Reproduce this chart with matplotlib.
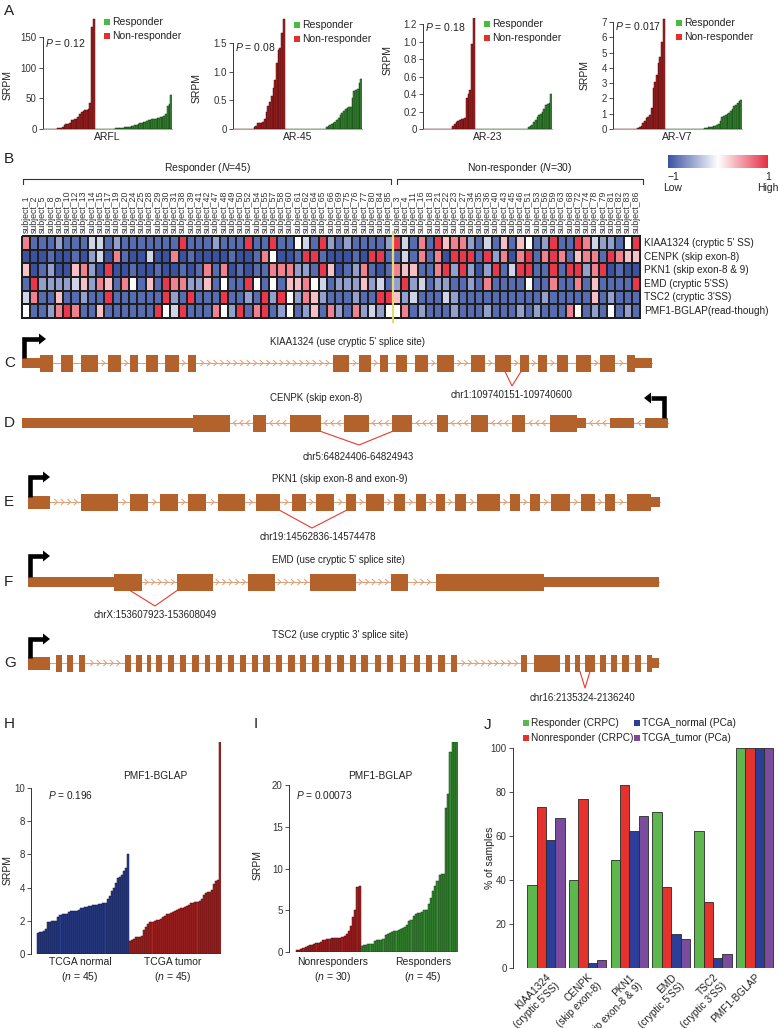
import numpy as np
import matplotlib
matplotlib.use('Agg')
import matplotlib.pyplot as plt
from matplotlib.colors import LinearSegmentedColormap
from matplotlib.patches import Rectangle, Polygon
from matplotlib.collections import LineCollection

plt.rcParams['font.family'] = ['Liberation Sans', 'DejaVu Sans']
plt.rcParams['mathtext.fontset'] = 'custom'
plt.rcParams['mathtext.rm'] = 'Liberation Sans'
plt.rcParams['mathtext.it'] = 'Liberation Sans:italic'
plt.rcParams['axes.linewidth'] = 0.7

# ================= DATA =================
# Panel A (sorted SRPM values: 30 non-responders, 45 responders)
ARFL_NR = [0]*8 + [1, 1, 2, 3, 7, 8, 8, 10, 14, 15, 16, 16, 20, 24, 27, 30, 31, 31, 32, 42, 166, 179]
ARFL_R = [0]*10 + [0.5, 0.7, 1, 1.2, 1.5, 2, 2.3, 2.6, 3, 3.4, 3.8, 4.2, 5, 6, 7, 8, 9, 10, 11, 12, 13, 14,
                   15, 16, 17, 17, 18, 18, 19, 20, 22, 25, 38, 40, 55]
AR45_NR = [0]*12 + [0.03, 0.05, 0.1, 0.1, 0.1, 0.12, 0.18, 0.3, 0.4, 0.47, 0.58, 0.72, 0.85, 1.15, 1.38, 1.42, 1.67, 1.93]
AR45_R = [0]*24 + [0.03, 0.05, 0.07, 0.09, 0.11, 0.13, 0.16, 0.2, 0.24, 0.28, 0.32, 0.35, 0.37, 0.38, 0.38, 0.55,
                   0.67, 0.68, 0.7, 0.8, 0.87]
AR23_NR = [0]*17 + [0.04, 0.06, 0.08, 0.09, 0.1, 0.12, 0.12, 0.13, 0.35, 0.4, 0.45, 0.97, 1.27]
AR23_R = [0]*31 + [0.02, 0.03, 0.05, 0.08, 0.1, 0.14, 0.16, 0.17, 0.2, 0.23, 0.27, 0.29, 0.3, 0.4]
ARV7_NR = [0]*14 + [0.05, 0.1, 0.2, 0.4, 0.55, 0.75, 0.8, 0.9, 1.4, 2.7, 3.1, 3.5, 4.3, 4.7, 5.7, 7.2]
ARV7_R = [0]*22 + [0.03, 0.06, 0.09, 0.12, 0.14, 0.15, 0.17, 0.2, 0.25, 0.35, 0.5, 0.8, 0.85, 0.9, 0.95, 1.05,
                   1.15, 1.3, 1.5, 1.55, 1.7, 1.8, 1.9]
A_NAMES = ['ARFL', 'AR-45', 'AR-23', 'AR-V7']
A_PVALS = ['0.12', '0.08', '0.18', '0.017']

# Panel B heatmap
RESP_SUBJ = [1, 2, 5, 8, 9, 10, 12, 13, 14, 15, 17, 19, 20, 24, 25, 28, 29, 30, 31, 38, 39, 41, 42, 47, 48, 49,
             50, 52, 54, 55, 57, 58, 60, 61, 62, 64, 65, 66, 69, 75, 76, 77, 80, 84, 85]
NONRESP_SUBJ = [3, 4, 11, 16, 18, 21, 22, 23, 27, 34, 35, 36, 40, 43, 45, 46, 51, 53, 56, 59, 63, 68, 72, 74,
                78, 79, 81, 82, 83, 86]
HEAT_LABELS = ["KIAA1324 (cryptic 5' SS)", "CENPK (skip exon-8)", "PKN1 (skip exon-8 & 9)",
               "EMD (cryptic 5'SS)", "TSC2 (cryptic 3'SS)", "PMF1-BGLAP(read-though)"]
# level codes: D dark blue ... R red
LEVELS = {'D': -1.0, 'B': -0.85, 'L': -0.55, 'V': -0.25, 'W': 0.0, 'Q': 0.3, 'P': 0.6, 'R': 0.95}
HEAT_ROWS = [
    "PBBBLBBBVVBLBBBBBBBRBBBLBBBRBBRBBWVBRLBLBBBBL" + "RVBPBRQPPLBVBQBQWBLRBBRPVLLBWR",
    "DDDBDDBDLVDPBDDVDDPDBDDDDBDDBPWDDBRRBDDDBDRRB" + "BVBPBPDRRRBRLPDPRBPRPBQPPBRPQQ",
    "QDBLDDQPLDRDDBDDBDDBDBPBPDBDBBPPPLLBRQDBLPBDB" + "PQQBBPRLRLDLRBVRRBBRBRRLPRDBDD",
    "BRLLLLVQLPQBPWBQBRPPLLQBWBBRWBWBQQPWVBLLLQLVB" + "LRLVBLLBBLBPBBBBWBBPBBPBQBBBBR",
    "VPBBQBBLBBRBBBBBBRLBRBBBRBBLBRLRWLPQLBBBLBBRR" + "QLVBBBVLBBBBBBBBBBLBBBBBQBLBBB",
    "WBBLPRPBBQBBBBBBRWVRBBBPWLRBPRBLWBLQBPLBPLVLW" + "WPBLBBBLBBBLBBBLBLBBBPWBLBWBLB",
]

# Panels C-G gene models (exon / UTR extents along the drawing, direction of transcription)
GENE_TITLES = ["KIAA1324 (use cryptic 5' splice site)", "CENPK (skip exon-8)",
               "PKN1 (skip exon-8 and exon-9)", "EMD (use cryptic 5' splice site)",
               "TSC2 (use cryptic 3' splice site)"]
GENE_COORDS = ["chr1:109740151-109740600", "chr5:64824406-64824943", "chr19:14562836-14574478",
               "chrX:153607923-153608049", "chr16:2135324-2136240"]
C_EXONS = [(40, 53.5), (61.5, 73.5), (81.5, 98.5), (108, 121.5), (130.5, 138), (146, 158), (165.5, 179),
           (188, 196), (333.5, 349.5), (359.5, 371), (380, 388), (396.5, 407.5), (415.5, 428.5), (437.5, 454),
           (471, 485), (495, 511.5), (520.5, 529), (538.5, 547.5), (557, 568), (576, 591.5), (600.5, 615),
           (627.5, 635)]
C_UTRS = [(22, 40), (635, 652)]
D_EXONS = [(193, 230), (253, 266), (290, 321), (344, 369), (392, 412), (437, 448), (471, 488), (512, 525),
           (550, 577)]
D_UTRS = [(22, 193), (577, 586), (610, 634), (645, 668)]
E_EXONS = [(81.5, 118), (130, 148.5), (160, 178.5), (188, 206.5), (218.5, 245), (256.5, 280), (292.5, 306),
           (316.5, 334), (346.5, 356), (366.5, 384), (394, 405), (416.5, 426), (436.5, 445), (455, 466.5),
           (477.5, 500), (510, 520), (530, 540), (551.5, 570), (581.5, 595), (605, 615), (627.5, 651)]
E_UTRS = [(28, 50), (651, 660)]
F_EXONS = [(114, 142), (177, 213), (248, 275), (310, 356), (391, 408), (436, 544)]
F_UTRS = [(28, 114), (544, 659)]
G_EXONS = [(56.5, 62.5), (67.5, 73.5), (79, 85), (125, 131.5), (136, 142.5), (147.5, 151.5), (156.5, 162.5),
           (168.5, 174.5), (180, 186), (192.5, 199), (205, 210), (216.5, 222.5), (228.5, 234), (240, 246.5),
           (252.5, 258.5), (263.5, 270), (276, 282.5), (288.5, 295), (300, 306.5), (312.5, 319), (325, 331.5),
           (337.5, 344), (350, 356.5), (361.5, 368), (375, 381), (387.5, 393.5), (400, 406.5), (414, 420),
           (426.5, 432.5), (438.5, 445), (451.5, 457.5), (521.5, 527.5), (534, 560), (565, 570), (575, 580),
           (585, 595), (600, 606.5), (611, 617.5), (622.5, 629), (635, 641.5), (647.5, 652.5)]
G_UTRS = [(28, 50), (652.5, 659)]

# Panel H / I
H_NORMAL = [1.28, 1.3, 1.35, 1.4, 1.5, 1.9, 1.95, 1.97, 2.0, 2.0, 2.2, 2.35, 2.4, 2.4, 2.42, 2.55, 2.58, 2.6,
            2.6, 2.62, 2.65, 2.8, 2.8, 2.82, 2.85, 2.9, 2.92, 2.95, 2.95, 2.97, 3.0, 3.02, 3.05, 3.1, 3.3, 3.5,
            3.8, 4.0, 4.3, 4.6, 4.65, 4.75, 5.0, 5.2, 6.05]
H_TUMOR = [0.8, 0.85, 0.9, 1.0, 1.02, 1.05, 1.1, 1.45, 1.65, 1.8, 1.9, 1.95, 2.0, 2.02, 2.05, 2.1, 2.2, 2.3,
           2.38, 2.4, 2.45, 2.5, 2.6, 2.65, 2.7, 2.75, 2.8, 2.85, 2.9, 2.95, 3.05, 3.1, 3.12, 3.15, 3.2, 3.3,
           3.55, 3.7, 3.72, 3.75, 3.85, 4.2, 4.4, 4.45, 12.75]
H_TICKS = [0, 2, 4, 6, 8, 10]
H_TICKLABELS = ['0', '2', '4', '8', '8', '10']
I_NONRESP = [0.2, 0.3, 0.4, 0.5, 0.6, 0.7, 0.8, 0.9, 1.0, 1.05, 1.1, 1.2, 1.4, 1.5, 1.6, 1.62, 1.65, 1.65,
             1.68, 1.7, 1.72, 1.8, 1.9, 2.2, 2.5, 3.1, 4.2, 5.1, 7.8, 7.9]
I_RESP = [0.7, 0.8, 0.9, 0.95, 1.0, 1.0, 1.3, 1.4, 1.45, 1.5, 1.6, 2.1, 2.2, 2.3, 2.45, 2.5, 2.55, 2.6, 2.8,
          2.9, 3.0, 3.2, 3.7, 3.8, 4.3, 4.6, 4.65, 4.7, 4.8, 5.0, 5.1, 5.8, 6.5, 7.3, 7.9, 8.5, 9.3, 9.35,
          9.35, 17.3, 19.0, 24.0, 25.2, 25.2, 25.2]

# Panel J
J_CATS = ["KIAA1324\n(cryptic 5'SS)", "CENPK\n(skip exon-8)", "PKN1\n(skip exon-8 & 9)",
          "EMD\n(cryptic 5'SS)", "TSC2\n(cryptic 3'SS)", "PMF1-BGLAP"]
J_SERIES = ['Responder (CRPC)', 'Nonresponder (CRPC)', 'TCGA_normal (PCa)', 'TCGA_tumor (PCa)']
J_RESP = [37.8, 40.0, 48.9, 71.1, 62.2, 100]
J_NONRESP = [73.3, 76.7, 83.3, 36.7, 30.0, 100]
J_NORMAL = [58.0, 2.2, 62.2, 15.6, 4.4, 100]
J_TUMOR = [68.3, 3.5, 69.0, 13.3, 6.2, 100]

# ================= STYLE =================
W, H = 778, 1028
RED_BAR, RED_EDGE = '#a52222', '#4d0b0b'
GRN_BAR, GRN_EDGE = '#3a8c36', '#103a10'
LEG_GRN, LEG_RED = '#4cb848', '#e3302f'
EXON = '#b3622b'
INTRON = '#dba37c'
cmap = LinearSegmentedColormap.from_list('bwr2', ['#3b52a3', '#ffffff', '#e62e45'])

fig = plt.figure(figsize=(W / 100, H / 100), dpi=100)


def add_ax(x0, y0, x1, y1, **kw):
    return fig.add_axes([x0 / W, 1 - y1 / H, (x1 - x0) / W, (y1 - y0) / H], **kw)


ov = fig.add_axes([0, 0, 1, 1], zorder=10)
ov.set_xlim(0, W)
ov.set_ylim(H, 0)
ov.axis('off')
ov.patch.set_alpha(0)


def T(x, y, s, **kw):
    kw.setdefault('fontsize', 7)
    kw.setdefault('color', '#222222')
    return ov.text(x, y, s, **kw)


def legend_sq(x, y, color, label, fs=7.3, size=6.0):
    ov.add_patch(Rectangle((x - size / 2, y - size / 2), size, size, color=color, lw=0))
    T(x + size / 2 + 2.5, y, label, va='center', ha='left', fontsize=fs)


def style_bar_axes(ax, ticks, labels, top_tick):
    for s in ['top', 'right']:
        ax.spines[s].set_visible(False)
    ax.spines['left'].set_bounds(0, top_tick)
    ax.spines['left'].set_color('#333333')
    ax.spines['left'].set_linewidth(0.7)
    ax.set_yticks(ticks)
    ax.set_yticklabels(labels)
    ax.tick_params(axis='y', length=3, width=0.6, labelsize=7, pad=1.5, colors='#333333')
    ax.set_xticks([])
    ax.patch.set_alpha(0)


# ================= PANEL A =================
T(4, 11, 'A', fontsize=11, va='center', ha='left')
A_DATA = [(ARFL_NR, ARFL_R), (AR45_NR, AR45_R), (AR23_NR, AR23_R), (ARV7_NR, ARV7_R)]
A_TOP = [181, 1.94, 1.27, 7.26]
A_TICKS = [[0, 50, 100, 150], [0, 0.5, 1.0, 1.5], [0, 0.2, 0.4, 0.6, 0.8, 1.0, 1.2], list(range(8))]
A_TICKLAB = [['0', '50', '100', '150'], ['0', '0.5', '1.0', '1.5'],
             ['0', '0.2', '0.4', '0.6', '0.8', '1.0', '1.2'], [str(i) for i in range(8)]]
A_X = [(43, 172), (233, 362), (423, 552), (613, 742)]
A_P = [(45, 43), (235, 47), (425, 27), (615, 26)]
A_LEG = [(107, 22), (297, 25), (487, 24), (679, 23)]
A_SRPM = [(8, 85), (197, 88), (388, 60), (585, 75)]
for i in range(4):
    nr, r = A_DATA[i]
    ax = add_ax(A_X[i][0], 18, A_X[i][1], 129)
    vals = list(nr) + list(r)
    cols = [RED_BAR] * len(nr) + [GRN_BAR] * len(r)
    edges = [RED_EDGE] * len(nr) + [GRN_EDGE] * len(r)
    ax.bar(np.arange(len(vals)), vals, width=1.0, color=cols, edgecolor=edges, linewidth=0.35)
    ax.set_xlim(-0.5, len(vals) - 0.5)
    ax.set_ylim(0, A_TOP[i])
    style_bar_axes(ax, A_TICKS[i], A_TICKLAB[i], A_TICKS[i][-1])
    ax.spines['bottom'].set_color('#999999')
    ax.spines['bottom'].set_linewidth(0.6)
    ax.text(0.5, -0.03, A_NAMES[i], transform=ax.transAxes, ha='center', va='top', fontsize=7.5,
            color='#222222')
    T(A_P[i][0], A_P[i][1], r'$P$ = ' + A_PVALS[i], va='center', ha='left', fontsize=7.5)
    lx, ly = A_LEG[i]
    legend_sq(lx, ly, LEG_GRN, 'Responder', fs=7.5)
    legend_sq(lx, ly + 14, LEG_RED, 'Non-responder', fs=7.5)
    T(A_SRPM[i][0], A_SRPM[i][1], 'SRPM', rotation=90, ha='center', va='center', fontsize=7.5)

# ================= PANEL B =================
T(4, 159, 'B', fontsize=11, va='center', ha='left')
hx0, hx1, hy0, hy1 = 22, 640, 236, 318
ncol = len(RESP_SUBJ) + len(NONRESP_SUBJ)
cw = (hx1 - hx0) / ncol
axh = add_ax(hx0, hy0, hx1, hy1)
M = np.array([[LEVELS[c] for c in row] for row in HEAT_ROWS])
mesh = axh.pcolormesh(np.arange(ncol + 1), np.arange(len(HEAT_ROWS) + 1), M, cmap=cmap, vmin=-1, vmax=1,
                      edgecolors='#1e1e1e', linewidth=1.1)
mesh.set_clip_on(False)
axh.set_xlim(0, ncol)
axh.set_ylim(len(HEAT_ROWS), 0)
axh.axis('off')
xsep = hx0 + len(RESP_SUBJ) * cw
ov.plot([xsep, xsep], [232, 322], color='#e6d77a', lw=1.6)
subj_labels = ['subject_%d' % s for s in RESP_SUBJ + NONRESP_SUBJ]
for k, lab in enumerate(subj_labels):
    T(hx0 + (k + 0.5) * cw, 233, lab, rotation=90, ha='center', va='bottom', fontsize=6.3, color='#333333')
rh = (hy1 - hy0) / len(HEAT_LABELS)
for j, lab in enumerate(HEAT_LABELS):
    T(644, hy0 + (j + 0.5) * rh, lab, va='center', ha='left', fontsize=7.2)
T(208, 168, r'Responder ($N$=45)', ha='center', va='center', fontsize=7.5)
T(520, 168, r'Non-responder ($N$=30)', ha='center', va='center', fontsize=7.5)
ov.plot([23, 23, 391, 391], [184, 178.5, 178.5, 184], color='#333333', lw=0.8)
ov.plot([397, 397, 643, 643], [184, 178.5, 178.5, 184], color='#333333', lw=0.8)
axc = add_ax(668, 155, 768, 168)
axc.imshow(np.linspace(-1, 1, 256)[None, :], aspect='auto', cmap=cmap, vmin=-1, vmax=1)
axc.axis('off')
T(673, 177, '\u22121', ha='center', va='center', fontsize=7.5)
T(768, 177, '1', ha='center', va='center', fontsize=7.5)
T(673, 188, 'Low', ha='center', va='center', fontsize=7.5)
T(768, 188, 'High', ha='center', va='center', fontsize=7.5)


# ================= PANELS C-G =================
def chevrons(a, b, yc, direction, segs):
    gap = b - a
    step = 6.6
    n = int((gap - 2) // step)
    if n < 1:
        return
    start = a + (gap - (n - 1) * step) / 2
    for m in range(n):
        x = start + m * step
        d = 1.6 * direction
        segs.append([(x - d, yc - 3.0), (x + d, yc), (x - d, yc + 3.0)])


def draw_gene(yc, exons, utrs, direction, utr_half=5.0, exon_half=8.5, first_utr_half=None):
    blocks = sorted([(a, b) for a, b in exons] + [(a, b) for a, b in utrs])
    x0, x1 = blocks[0][0], blocks[-1][1]
    ov.plot([x0, x1], [yc, yc], color=INTRON, lw=0.8, zorder=2)
    segs = []
    for (a0, b0), (a1, b1) in zip(blocks[:-1], blocks[1:]):
        if a1 - b0 > 5:
            chevrons(b0, a1, yc, direction, segs)
    ov.add_collection(LineCollection(segs, colors=INTRON, linewidths=0.75, zorder=2))
    for n, (a, b) in enumerate(utrs):
        hh = utr_half
        if n == 0 and first_utr_half is not None:
            hh = first_utr_half
        ov.add_patch(Rectangle((a, yc - hh), b - a, 2 * hh, color=EXON, lw=0, zorder=3))
    for a, b in exons:
        ov.add_patch(Rectangle((a, yc - exon_half), b - a, 2 * exon_half, color=EXON, lw=0, zorder=3))


def tss(x, ybase, ytop, xend, direction):
    ov.plot([x, x, xend], [ybase, ytop, ytop], color='black', lw=3.3, solid_capstyle='butt',
            solid_joinstyle='miter', zorder=4)
    ov.add_patch(Polygon([[xend, ytop - 5.5], [xend, ytop + 5.5], [xend + 7 * direction, ytop]],
                         closed=True, color='black', lw=0, zorder=4))


GENE_FONT = dict(fontsize=7.0, color='#222222', family=['Liberation Sans Narrow', 'Liberation Sans'])
genes = [
    dict(lab='C', y=363, ex=C_EXONS, ut=C_UTRS, d=1, ty=342, tx=348, v=[(505, 371.5), (512, 386), (521, 371.5)],
         cx=512, cy=395, tss=(24.5, 358, 339, 39, 1), fu=None),
    dict(lab='D', y=423, ex=D_EXONS, ut=D_UTRS, d=-1, ty=398, tx=316, v=[(321, 431.5), (359, 445), (392, 431.5)],
         cx=358, cy=457, tss=(664, 418, 398, 651, -1), fu=None),
    dict(lab='E', y=502, ex=E_EXONS, ut=E_UTRS, d=1, ty=479, tx=340, v=[(280, 510.5), (312, 528), (346, 510.5)],
         cx=318, cy=537, tss=(30, 497, 477, 43, 1), fu=6.5),
    dict(lab='F', y=582, ex=F_EXONS, ut=F_UTRS, d=1, ty=560, tx=338, v=[(130, 590.5), (155, 606), (177, 590.5)],
         cx=155, cy=615, tss=(30, 577, 556, 43, 1), fu=None),
    dict(lab='G', y=663, ex=G_EXONS, ut=G_UTRS, d=1, ty=635, tx=340, v=[(580, 671.5), (585, 688), (590, 671.5)],
         cx=582, cy=698, tss=(30, 658, 639, 43, 1), fu=6.5),
]
for gi, g in enumerate(genes):
    T(4, g['y'], g['lab'], fontsize=11, va='center', ha='left')
    draw_gene(g['y'], g['ex'], g['ut'], g['d'], first_utr_half=g['fu'])
    tss(*g['tss'])
    xs, ys = zip(*g['v'])
    ov.plot(xs, ys, color='#e83a30', lw=0.8, zorder=5)
    T(g['tx'], g['ty'], GENE_TITLES[gi], ha='center', va='center', **GENE_FONT)
    T(g['cx'], g['cy'], GENE_COORDS[gi], ha='center', va='center', **GENE_FONT)

# ================= PANEL H =================
T(4, 724, 'H', fontsize=11, va='center', ha='left')
axH = add_ax(31, 742, 221, 954)
hv = H_NORMAL + H_TUMOR
hc = ['#2c3f8c'] * len(H_NORMAL) + ['#ad2424'] * len(H_TUMOR)
he = ['#0e1640'] * len(H_NORMAL) + ['#4a0a0a'] * len(H_TUMOR)
axH.bar(np.arange(len(hv)), hv, width=1.0, color=hc, edgecolor=he, linewidth=0.35)
axH.set_xlim(-3.44, len(hv) - 0.5)
axH.set_ylim(0, 12.77)
style_bar_axes(axH, H_TICKS, H_TICKLABELS, 10)
axH.spines['bottom'].set_visible(False)
T(155, 776, 'PMF1-BGLAP', ha='center', va='center', fontsize=7.3)
T(48, 795, r'$P$ = 0.196', ha='left', va='center', fontsize=7.3)
T(8, 870, 'SRPM', rotation=90, ha='center', va='center', fontsize=7.5)
T(80, 962, 'TCGA normal', ha='center', va='center', fontsize=7.5)
T(80, 977, r'($n$ = 45)', ha='center', va='center', fontsize=7.5)
T(173, 962, 'TCGA tumor', ha='center', va='center', fontsize=7.5)
T(173, 977, r'($n$ = 45)', ha='center', va='center', fontsize=7.5)

# ================= PANEL I =================
T(254, 724, 'I', fontsize=11, va='center', ha='left')
axI = add_ax(289, 742, 458, 952)
iv = I_NONRESP + I_RESP
ic = [RED_BAR] * len(I_NONRESP) + [GRN_BAR] * len(I_RESP)
ie = [RED_EDGE] * len(I_NONRESP) + [GRN_EDGE] * len(I_RESP)
axI.bar(np.arange(len(iv)), iv, width=1.0, color=ic, edgecolor=ie, linewidth=0.35)
axI.set_xlim(-3.74, len(iv) - 0.5)
axI.set_ylim(0, 25.2)
style_bar_axes(axI, [0, 5, 10, 15, 20], ['0', '5', '10', '15', '20'], 20)
axI.spines['bottom'].set_visible(False)
T(380, 776, 'PMF1-BGLAP', ha='center', va='center', fontsize=7.3)
T(296, 795, r'$P$ = 0.00073', ha='left', va='center', fontsize=7.3)
T(258, 865, 'SRPM', rotation=90, ha='center', va='center', fontsize=7.5)
T(333, 962, 'Nonresponders', ha='center', va='center', fontsize=7.5)
T(333, 977, r'($n$ = 30)', ha='center', va='center', fontsize=7.5)
T(423, 962, 'Responders', ha='center', va='center', fontsize=7.5)
T(423, 977, r'($n$ = 45)', ha='center', va='center', fontsize=7.5)

# ================= PANEL J =================
T(484, 725, 'J', fontsize=11, va='center', ha='left')
axJ = add_ax(513, 748, 778, 968)
J_COLORS = ['#5cb84c', '#e5322d', '#2c3f98', '#7b4b9e']
x = np.arange(len(J_CATS))
bw = 0.225
for s, (vals, col) in enumerate(zip([J_RESP, J_NONRESP, J_NORMAL, J_TUMOR], J_COLORS)):
    axJ.bar(x + (s - 1.5) * bw, vals, width=bw, color=col, edgecolor='#2a2a2a', linewidth=0.6)
axJ.set_xlim(-0.79, 5.56)
axJ.set_ylim(0, 100)
style_bar_axes(axJ, [0, 20, 40, 60, 80, 100], ['0', '20', '40', '60', '80', '100'], 100)
axJ.spines['bottom'].set_visible(False)
axJ.set_xticks(x)
axJ.set_xticklabels(J_CATS, rotation=45, ha='right', va='top', rotation_mode='anchor', fontsize=7.3,
                    multialignment='right')
axJ.tick_params(axis='x', length=0, pad=3, colors='#222222')
T(490, 858, '% of samples', rotation=90, ha='center', va='center', fontsize=7.5)
legend_sq(526, 723, J_COLORS[0], J_SERIES[0], fs=7.3)
legend_sq(526, 738, J_COLORS[1], J_SERIES[1], fs=7.3)
legend_sq(637, 723, J_COLORS[2], J_SERIES[2], fs=7.3)
legend_sq(637, 738, J_COLORS[3], J_SERIES[3], fs=7.3)

fig.savefig('out.png', dpi=100)
